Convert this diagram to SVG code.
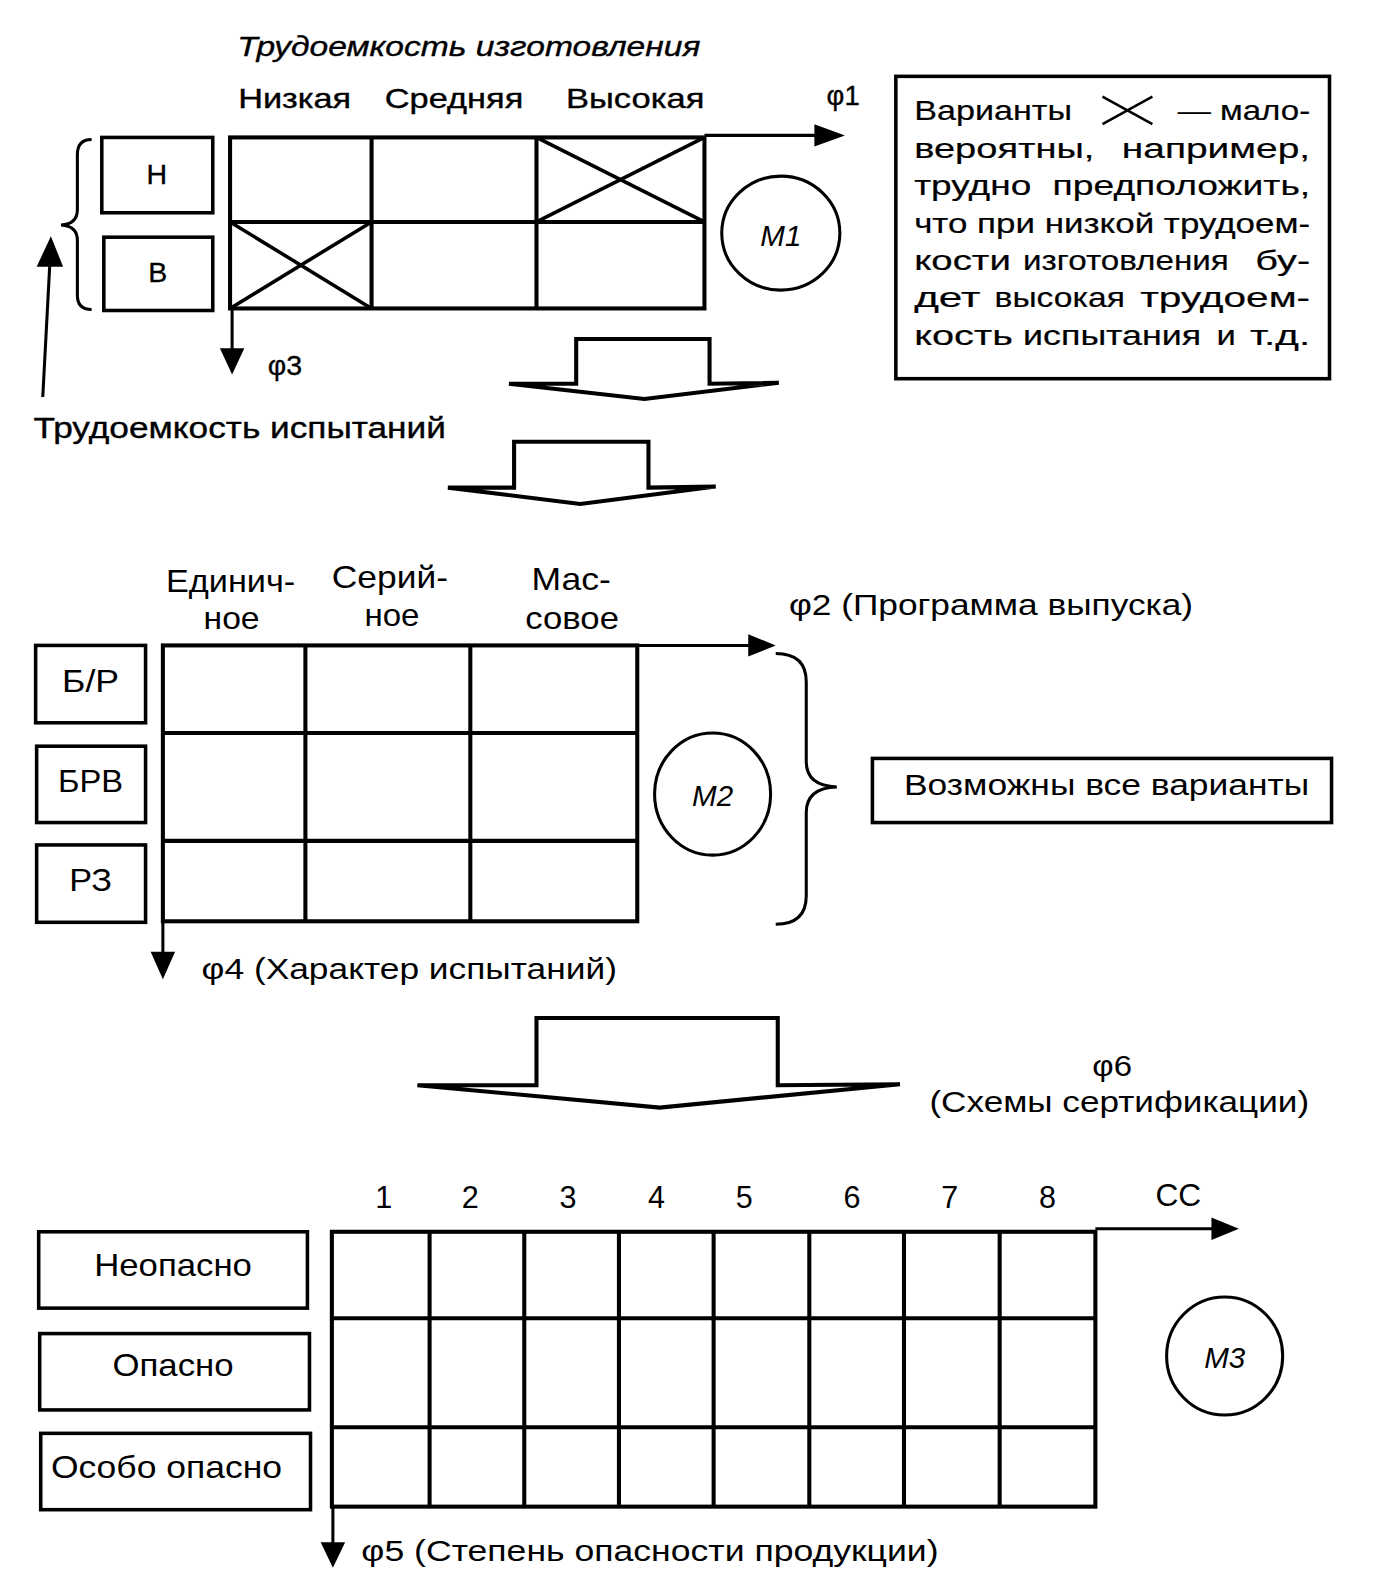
<svg xmlns="http://www.w3.org/2000/svg" width="1399" height="1595" viewBox="0 0 1399 1595">
<style>
text{font-family:"Liberation Sans",Arial,sans-serif;fill:#000}
.t{font-size:27px;stroke:#000;stroke-width:0.35}
.n{font-size:28px;stroke:#000;stroke-width:0.2}
.m{font-size:30px}
.c{text-anchor:middle}
.it{font-style:italic}
.g{fill:none;stroke:#000;stroke-width:4}
.b{fill:#fff;stroke:#000;stroke-width:3.5}
.ln{fill:none;stroke:#000;stroke-width:3}
.x{fill:none;stroke:#000;stroke-width:3.5}
.ah{fill:#000;stroke:none}
.blk{fill:#fff;stroke:#000;stroke-width:4;stroke-linejoin:miter}
</style>
<rect width="1399" height="1595" fill="#fff"/>
<g id="diagram" transform="scale(1.018)">

<!-- Top section -->
<g id="m1-header">
<text class="t it" x="233" y="55" textLength="455" lengthAdjust="spacingAndGlyphs" style="font-size:28px">Трудоемкость изготовления</text>
<text class="t" x="234" y="106" textLength="111" lengthAdjust="spacingAndGlyphs">Низкая</text>
<text class="t" x="378" y="106" textLength="136" lengthAdjust="spacingAndGlyphs">Средняя</text>
<text class="t" x="556" y="106" textLength="136" lengthAdjust="spacingAndGlyphs">Высокая</text>
</g>
<g id="m1-grid">
<rect class="g" x="226" y="135" width="466" height="168"/>
<line class="g" x1="226" y1="218" x2="692" y2="218"/>
<line class="g" x1="365" y1="135" x2="365" y2="303"/>
<line class="g" x1="527" y1="135" x2="527" y2="303"/>
<line class="x" x1="527" y1="135" x2="692" y2="218"/>
<line class="x" x1="692" y1="135" x2="527" y2="218"/>
<line class="x" x1="226" y1="218" x2="365" y2="303"/>
<line class="x" x1="365" y1="218" x2="226" y2="303"/>
</g>
<g id="box-n"><rect class="b" x="100" y="135" width="109" height="74"/><text class="t c" x="154" y="181" style="font-size:28px">Н</text></g>
<g id="box-v"><rect class="b" x="102" y="233" width="107" height="72"/><text class="t c" x="155" y="277" style="font-size:28px">В</text></g>
<g id="m1-circle"><ellipse class="ln" cx="767" cy="229" rx="58" ry="56"/><text class="c it" x="767" y="242" style="font-size:29px">M1</text></g>
<g id="note-box">
<rect class="b" x="880" y="75" width="426" height="297"/>
<text class="n" x="898" y="118" textLength="155" lengthAdjust="spacingAndGlyphs">Варианты</text>
<line x1="1083" y1="95" x2="1132" y2="122" stroke="#000" stroke-width="2.5"/>
<line x1="1083" y1="122" x2="1132" y2="95" stroke="#000" stroke-width="2.5"/>
<text class="n" x="1157" y="118" textLength="130" lengthAdjust="spacingAndGlyphs">— мало-</text>
<text class="n" x="898" y="155" textLength="177" lengthAdjust="spacingAndGlyphs">вероятны,</text>
<text class="n" x="1102" y="155" textLength="185" lengthAdjust="spacingAndGlyphs">например,</text>
<text class="n" x="898" y="192" textLength="115" lengthAdjust="spacingAndGlyphs">трудно</text>
<text class="n" x="1034" y="192" textLength="253" lengthAdjust="spacingAndGlyphs">предположить,</text>
<text class="n" x="898" y="229" textLength="389" lengthAdjust="spacingAndGlyphs">что при низкой трудоем-</text>
<text class="n" x="898" y="265" textLength="95" lengthAdjust="spacingAndGlyphs">кости</text>
<text class="n" x="1005" y="265" textLength="202" lengthAdjust="spacingAndGlyphs">изготовления</text>
<text class="n" x="1233" y="265" textLength="54" lengthAdjust="spacingAndGlyphs">бу-</text>
<text class="n" x="898" y="302" textLength="65" lengthAdjust="spacingAndGlyphs">дет</text>
<text class="n" x="977" y="302" textLength="128" lengthAdjust="spacingAndGlyphs">высокая</text>
<text class="n" x="1120" y="302" textLength="167" lengthAdjust="spacingAndGlyphs">трудоем-</text>
<text class="n" x="898" y="339" textLength="97" lengthAdjust="spacingAndGlyphs">кость</text>
<text class="n" x="1005" y="339" textLength="175" lengthAdjust="spacingAndGlyphs">испытания</text>
<text class="n" x="1195" y="339" textLength="19" lengthAdjust="spacingAndGlyphs">и</text>
<text class="n" x="1228" y="339" textLength="59" lengthAdjust="spacingAndGlyphs">т.д.</text>
</g>
<g id="label-test-effort">
<text class="t" x="33" y="430" textLength="405" lengthAdjust="spacingAndGlyphs" style="font-size:29px">Трудоемкость испытаний</text>
</g>

<!-- Middle section -->
<g id="m2-header">
<text class="m" x="163" y="582" textLength="127" lengthAdjust="spacingAndGlyphs">Единич-</text>
<text class="m" x="200" y="618" textLength="55" lengthAdjust="spacingAndGlyphs">ное</text>
<text class="m" x="326" y="578" textLength="114" lengthAdjust="spacingAndGlyphs">Серий-</text>
<text class="m" x="358" y="615" textLength="54" lengthAdjust="spacingAndGlyphs">ное</text>
<text class="m" x="522" y="580" textLength="78" lengthAdjust="spacingAndGlyphs">Мас-</text>
<text class="m" x="516" y="618" textLength="92" lengthAdjust="spacingAndGlyphs">совое</text>
</g>
<g id="m2-grid">
<rect class="g" x="160" y="634" width="466" height="271"/>
<line class="g" x1="160" y1="720" x2="626" y2="720"/>
<line class="g" x1="160" y1="826" x2="626" y2="826"/>
<line class="g" x1="300" y1="634" x2="300" y2="905"/>
<line class="g" x1="462" y1="634" x2="462" y2="905"/>
</g>
<g id="box-br"><rect class="b" x="35" y="634" width="108" height="76"/><text class="m c" x="89" y="680" textLength="56" lengthAdjust="spacingAndGlyphs">Б/Р</text></g>
<g id="box-brv"><rect class="b" x="36" y="733" width="107" height="75"/><text class="m c" x="89" y="778" textLength="64" lengthAdjust="spacingAndGlyphs">БРВ</text></g>
<g id="box-rz"><rect class="b" x="36" y="830" width="107" height="76"/><text class="m c" x="89" y="875" textLength="42" lengthAdjust="spacingAndGlyphs">РЗ</text></g>
<g id="m2-circle"><ellipse class="ln" cx="700" cy="780" rx="57" ry="60"/><text class="c it" x="700" y="792" style="font-size:29px">M2</text></g>
<g id="all-variants"><rect class="b" x="857" y="745" width="451" height="63"/><text class="m" x="888" y="781" textLength="398" lengthAdjust="spacingAndGlyphs" style="font-size:29px">Возможны все варианты</text></g>
<g id="phi6-label">
<text class="m" x="1073" y="1057" textLength="39" lengthAdjust="spacingAndGlyphs" style="font-size:29px">φ6</text>
<text class="m" x="913" y="1092" textLength="373" lengthAdjust="spacingAndGlyphs" style="font-size:29px">(Схемы сертификации)</text>
</g>

<!-- Bottom section -->
<g id="m3-header">
<text class="m c" x="377" y="1187">1</text>
<text class="m c" x="462" y="1187">2</text>
<text class="m c" x="558" y="1187">3</text>
<text class="m c" x="645" y="1187">4</text>
<text class="m c" x="731" y="1187">5</text>
<text class="m c" x="837" y="1187">6</text>
<text class="m c" x="933" y="1187">7</text>
<text class="m c" x="1029" y="1187">8</text>
<text class="m" x="1135" y="1185" textLength="45" lengthAdjust="spacingAndGlyphs">CC</text>
</g>
<g id="m3-grid">
<rect class="g" x="326" y="1210" width="750" height="270"/>
<line class="g" x1="326" y1="1295" x2="1076" y2="1295"/>
<line class="g" x1="326" y1="1402" x2="1076" y2="1402"/>
<line class="g" x1="422" y1="1210" x2="422" y2="1480"/>
<line class="g" x1="515" y1="1210" x2="515" y2="1480"/>
<line class="g" x1="608" y1="1210" x2="608" y2="1480"/>
<line class="g" x1="701" y1="1210" x2="701" y2="1480"/>
<line class="g" x1="795" y1="1210" x2="795" y2="1480"/>
<line class="g" x1="888" y1="1210" x2="888" y2="1480"/>
<line class="g" x1="982" y1="1210" x2="982" y2="1480"/>
</g>
<g id="box-safe"><rect class="b" x="38" y="1210" width="264" height="75"/><text class="m c" x="170" y="1253" textLength="155" lengthAdjust="spacingAndGlyphs">Неопасно</text></g>
<g id="box-danger"><rect class="b" x="39" y="1310" width="265" height="75"/><text class="m c" x="170" y="1352" textLength="119" lengthAdjust="spacingAndGlyphs">Опасно</text></g>
<g id="box-very"><rect class="b" x="40" y="1408" width="265" height="75"/><text class="m" x="50" y="1452" textLength="227" lengthAdjust="spacingAndGlyphs">Особо опасно</text></g>
<g id="m3-circle"><ellipse class="ln" cx="1203" cy="1332" rx="57" ry="58"/><text class="c it" x="1203" y="1344" style="font-size:29px">M3</text></g>

<!-- Connectors -->
<g id="connectors">
<line class="ln" x1="692" y1="133" x2="805" y2="133"/>
<polygon class="ah" points="800,122 830,133 800,144"/>
<text class="t" x="812" y="103">φ1</text>
<line class="ln" x1="228" y1="303" x2="228" y2="345"/>
<polygon class="ah" points="216,342 240,342 228,368"/>
<text class="t" x="263" y="368" style="font-size:28px">φ3</text>
<path class="ln" d="M90,137 Q76,137 76,152 L76,206 Q76,220 60,221 Q76,222 76,236 L76,290 Q76,304 90,304"/>
<line class="ln" x1="42" y1="390" x2="49" y2="258"/>
<polygon class="ah" points="36,262 62,262 50,232"/>
<line class="ln" x1="626" y1="634" x2="740" y2="634"/>
<polygon class="ah" points="735,623 762,634 735,645"/>
<text class="m" x="775" y="604" textLength="397" lengthAdjust="spacingAndGlyphs" style="font-size:29px">φ2 (Программа выпуска)</text>
<line class="ln" x1="160" y1="905" x2="160" y2="938"/>
<polygon class="ah" points="148,935 172,935 160,962"/>
<text class="m" x="198" y="962" textLength="408" lengthAdjust="spacingAndGlyphs" style="font-size:29px">φ4 (Характер испытаний)</text>
<path class="ln" d="M762,642 Q792,642 792,670 L792,748 Q792,772 822,773 Q792,774 792,798 L792,880 Q792,908 762,908"/>
<line class="ln" x1="1076" y1="1207" x2="1195" y2="1207"/>
<polygon class="ah" points="1190,1196 1217,1207 1190,1218"/>
<line class="ln" x1="327" y1="1480" x2="327" y2="1518"/>
<polygon class="ah" points="315,1515 339,1515 327,1540"/>
<text class="m" x="355" y="1533" textLength="567" lengthAdjust="spacingAndGlyphs" style="font-size:29px">φ5 (Степень опасности продукции)</text>
<path class="blk" d="M500,377 L566,377 L566,333 L697,333 L697,377 L765,376 L633,392 Z"/>
<path class="blk" d="M440,479 L505,479 L505,434 L637,434 L637,479 L703,478 L570,495 Z"/>
<path class="blk" d="M410,1066 L527,1066 L527,1000 L764,1000 L764,1066 L884,1065 L648,1088 Z"/>
</g>
</g>
</svg>
